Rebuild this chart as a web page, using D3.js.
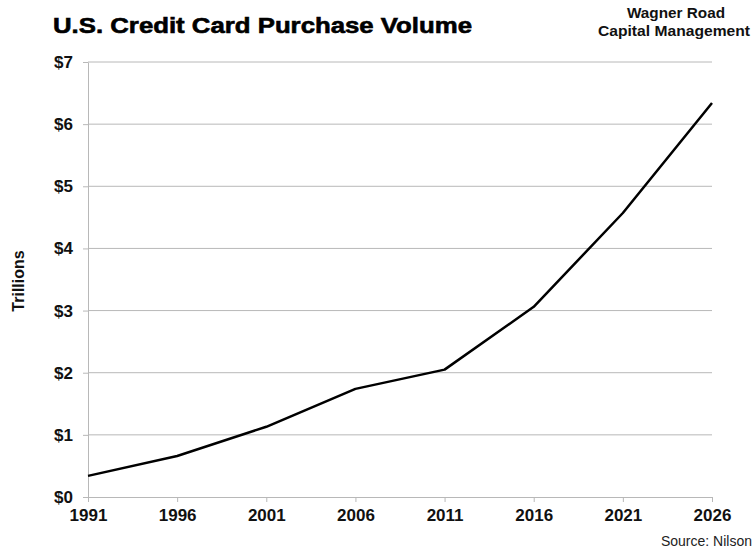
<!DOCTYPE html>
<html>
<head>
<meta charset="utf-8">
<script src="https://cdn.jsdelivr.net/npm/d3@7"></script>
<style>
  body { margin: 0; background: #fff; }
  text { font-family: 'Liberation Sans', Arial, sans-serif; }
</style>
</head>
<body>
<div id="chart"></div>
<script>
const years = [1991, 1996, 2001, 2006, 2011, 2016, 2021, 2026]
const volume = [0.34, 0.66, 1.13, 1.74, 2.05, 3.06, 4.57, 6.34]
const yTicks = [0, 1, 2, 3, 4, 5, 6, 7]

const margin = { top: 62, right: 42, bottom: 53, left: 88 }
const width = 754 - margin.left - margin.right
const height = 550 - margin.top - margin.bottom

const root = d3
  .select('#chart')
  .append('svg')
  .attr('width', 754)
  .attr('height', 550)

const svg = root
  .append('g')
  .attr('transform', 'translate(' + margin.left + ',' + margin.top + ')')

const xPositionScale = d3.scaleLinear().domain([1991, 2026]).range([0, width])
const yPositionScale = d3.scaleLinear().domain([0, 7]).range([height, 0])

// gridlines
svg
  .selectAll('.grid')
  .data(yTicks.slice(1))
  .enter()
  .append('line')
  .attr('class', 'grid')
  .attr('x1', 0)
  .attr('x2', width)
  .attr('y1', d => yPositionScale(d))
  .attr('y2', d => yPositionScale(d))
  .attr('stroke', '#b8b8b8')
  .attr('stroke-width', 1)

const yAxis = d3
  .axisLeft(yPositionScale)
  .tickValues(yTicks)
  .tickSize(5)
  .tickPadding(10)
  .tickFormat(d => '$' + d)

svg
  .append('g')
  .attr('class', 'axis y-axis')
  .call(yAxis)

const xAxis = d3
  .axisBottom(xPositionScale)
  .tickValues(years)
  .tickSize(5)
  .tickPadding(7)
  .tickFormat(d3.format('d'))

svg
  .append('g')
  .attr('class', 'axis x-axis')
  .attr('transform', 'translate(0,' + height + ')')
  .call(xAxis)

svg.selectAll('.axis .domain, .axis line').attr('stroke', '#b8b8b8')
svg.select('.x-axis .domain').attr('d', 'M0.5,0.5H' + (width + 0.5))
svg.select('.y-axis .domain').attr('d', 'M0.5,' + (height + 0.5) + 'V0.5')
svg
  .selectAll('.axis text')
  .attr('font-family', "'Liberation Sans', Arial, sans-serif")
  .attr('font-size', 17)
  .attr('font-weight', 'bold')
  .attr('fill', '#111')

// the line
const line = d3
  .line()
  .x((d, i) => xPositionScale(years[i]))
  .y(d => yPositionScale(d))

svg
  .append('path')
  .datum(volume)
  .attr('d', line)
  .attr('fill', 'none')
  .attr('stroke', '#000')
  .attr('stroke-width', 2.5)
  .attr('stroke-linejoin', 'round')

// texts
root
  .append('text')
  .attr('x', 53)
  .attr('y', 33)
  .attr('font-size', 22)
  .attr('font-weight', 'bold')
  .attr('fill', '#000')
  .attr('stroke', '#000')
  .attr('stroke-width', 0.6)
  .attr('textLength', 419)
  .attr('lengthAdjust', 'spacingAndGlyphs')
  .text('U.S. Credit Card Purchase Volume')

const brand = root
  .append('text')
  .attr('text-anchor', 'middle')
  .attr('font-size', 15)
  .attr('font-weight', 'bold')
  .attr('fill', '#111')

brand
  .append('tspan')
  .attr('x', 676)
  .attr('y', 18)
  .attr('textLength', 98)
  .attr('lengthAdjust', 'spacingAndGlyphs')
  .text('Wagner Road')

brand
  .append('tspan')
  .attr('x', 674)
  .attr('y', 36)
  .attr('textLength', 152)
  .attr('lengthAdjust', 'spacingAndGlyphs')
  .text('Capital Management')

root
  .append('text')
  .attr('transform', 'translate(24,281) rotate(-90)')
  .attr('text-anchor', 'middle')
  .attr('font-size', 16)
  .attr('font-weight', 'bold')
  .attr('fill', '#111')
  .text('Trillions')

root
  .append('text')
  .attr('x', 752)
  .attr('y', 546)
  .attr('text-anchor', 'end')
  .attr('font-size', 14)
  .attr('fill', '#222')
  .text('Source: Nilson')
</script>
</body>
</html>
